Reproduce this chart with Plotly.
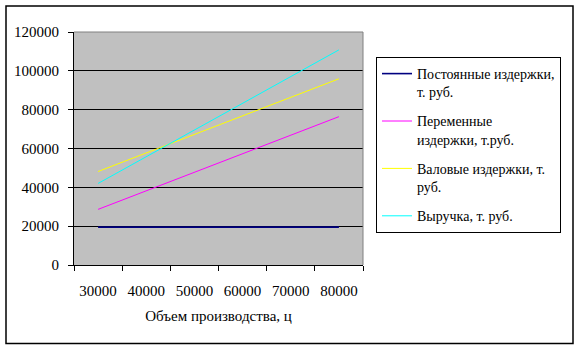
import plotly.graph_objects as go

# Data
volumes = ["30000", "40000", "50000", "60000", "70000", "80000"]
fixed_costs = [19500, 19500, 19500, 19500, 19500, 19500]
variable_costs = [28650, 38200, 47750, 57300, 66850, 76400]
gross_costs = [48150, 57700, 67250, 76800, 86350, 95900]
revenue = [42000, 55760, 69520, 83280, 97040, 110800]

series_names = [
    "Постоянные издержки,<br>т. руб.",
    "Переменные<br>издержки, т.руб.",
    "Валовые издержки, т.<br>руб.",
    "Выручка, т. руб.",
]
series_values = [fixed_costs, variable_costs, gross_costs, revenue]
series_colors = ["#000080", "#FF00FF", "#FFFF00", "#00FFFF"]
series_widths = [1.6, 1, 1, 1]

W, H = 581, 351
L, R, T, B = 74, 363, 32, 265  # plot area in px
FONT = "Liberation Serif"

fig = go.Figure()
for i, (name, vals, col, w) in enumerate(zip(series_names, series_values, series_colors, series_widths)):
    fig.add_trace(go.Scatter(x=volumes, y=vals, name=name, mode="lines",
                             legendgroup=f"g{i}",
                             line=dict(color=col, width=w)))

def px2paper_x(px):
    return (px - L) / (R - L)

def px2paper_y(py):
    return (B - py) / (B - T)

shapes = [
    dict(type="rect", xref="paper", yref="paper",
         x0=px2paper_x(6), x1=px2paper_x(573), y0=px2paper_y(343.5), y1=px2paper_y(6),
         line=dict(color="black", width=1.5), layer="below"),
    dict(type="line", xref="paper", yref="paper", x0=0, x1=1, y0=1, y1=1,
         line=dict(color="#808080", width=1), layer="above"),
    dict(type="line", xref="paper", yref="paper", x0=1, x1=1, y0=0, y1=1,
         line=dict(color="#808080", width=1), layer="above"),
]

fig.update_layout(
    width=W, height=H,
    margin=dict(l=L, r=W - R, t=T, b=H - B, pad=0),
    paper_bgcolor="white",
    plot_bgcolor="#C0C0C0",
    font=dict(family=FONT, size=15, color="black"),
    shapes=shapes,
    showlegend=True,
    legend=dict(
        xref="container", yref="container",
        x=376 / W, y=1 - 57 / H, xanchor="left", yanchor="top",
        bgcolor="white", bordercolor="black", borderwidth=1,
        font=dict(family=FONT, size=14, color="black"),
        valign="top", traceorder="grouped",
        tracegroupgap=8,
        itemwidth=30,
        maxheight=300,
    ),
    xaxis=dict(
        type="category", range=[-0.5, 5.5],
        showgrid=False, zeroline=False,
        showline=True, linecolor="black", linewidth=1,
        ticks="outside", tickson="boundaries", ticklen=5, tickcolor="black",
        ticklabelstandoff=12,
        title=dict(text="Объем производства, ц", font=dict(family=FONT, size=15), standoff=12),
    ),
    yaxis=dict(
        range=[0, 120000], dtick=20000, tick0=0,
        showgrid=True, gridcolor="black", gridwidth=1,
        zeroline=False,
        showline=True, linecolor="black", linewidth=1,
        ticks="outside", ticklen=5, tickcolor="black",
        ticklabelstandoff=6,
        tickformat="d",
    ),
)

fig.write_html("out.html")
